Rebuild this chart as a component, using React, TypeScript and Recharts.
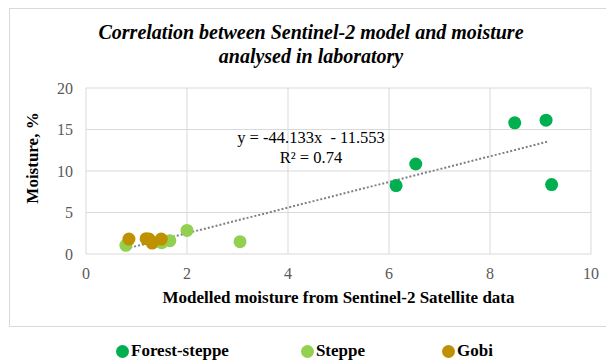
import { ScatterChart, Scatter, XAxis, YAxis, CartesianGrid } from 'recharts';

const forestSteppe = [
  { x: 6.14, y: 8.24 },
  { x: 6.53, y: 10.84 },
  { x: 8.49, y: 15.8 },
  { x: 9.11, y: 16.12 },
  { x: 9.22, y: 8.36 },
];

const steppe = [
  { x: 0.79, y: 1.04 },
  { x: 1.5, y: 1.36 },
  { x: 1.66, y: 1.6 },
  { x: 2.0, y: 2.84 },
  { x: 3.05, y: 1.48 },
];

const gobi = [
  { x: 0.85, y: 1.8 },
  { x: 1.19, y: 1.85 },
  { x: 1.25, y: 1.8 },
  { x: 1.31, y: 1.32 },
  { x: 1.49, y: 1.8 },
];

const trend = [
  { x: 0.8, y: 0.65 },
  { x: 9.16, y: 13.56 },
];

const xTicks = [0, 2, 4, 6, 8, 10];
const yTicks = [0, 5, 10, 15, 20];

const seriesNames = ['Forest-steppe', 'Steppe', 'Gobi'];
const seriesColors = ['#00B050', '#92D050', '#BF9000'];

const serif = '"Liberation Serif", "Times New Roman", "DejaVu Serif", serif';

const dot = (color: string) => (props: any) => (
  <circle cx={props.cx} cy={props.cy} r={6.5} fill={color} />
);

const tickStyle = { fill: '#595959', fontSize: 16, fontFamily: serif, style: { fontFamily: serif } };

export default function App() {
  const groups = [forestSteppe, steppe, gobi];
  return (
    <div style={{ position: 'relative', width: 606, height: 353, fontFamily: serif }}>
      <div
        style={{
          position: 'absolute',
          left: 1,
          top: 0,
          width: 620,
          height: 319,
          border: '1px solid #d9d9d9',
          boxSizing: 'border-box',
        }}
      />
      <div
        style={{
          position: 'absolute',
          left: 0,
          top: 12,
          width: 606,
          textAlign: 'center',
          fontSize: 20,
          fontWeight: 'bold',
          fontStyle: 'italic',
          lineHeight: '24px',
          color: '#000',
        }}
      >
        Correlation between Sentinel-2 model and moisture
        <br />
        analysed in laboratory
      </div>
      <div style={{ position: 'absolute', left: 0, top: 0 }}>
        <ScatterChart width={606} height={353} margin={{ top: 80, right: 23, bottom: 77, left: 0 }}>
          <CartesianGrid stroke="#d9d9d9" strokeWidth={1} />
          <XAxis
            type="number"
            dataKey="x"
            domain={[0, 10]}
            ticks={xTicks}
            axisLine={false}
            tickLine={false}
            tickSize={0}
            tickMargin={14}
            height={30}
            tick={tickStyle}
          />
          <YAxis
            type="number"
            dataKey="y"
            domain={[0, 20]}
            ticks={yTicks}
            axisLine={false}
            tickLine={false}
            tickSize={0}
            tickMargin={13}
            width={78}
            tick={tickStyle}
          />
          <Scatter
            data={trend}
            line={{ stroke: '#808080', strokeWidth: 2, strokeDasharray: '2 2' }}
            shape={() => null}
            isAnimationActive={false}
          />
          {groups.map((g, i) => (
            <Scatter
              key={seriesNames[i]}
              name={seriesNames[i]}
              data={g}
              fill={seriesColors[i]}
              shape={dot(seriesColors[i])}
              isAnimationActive={false}
            />
          ))}
        </ScatterChart>
      </div>
      <div
        style={{
          position: 'absolute',
          left: 203,
          top: 120,
          width: 200,
          textAlign: 'center',
          fontSize: 16.5,
          lineHeight: '20px',
          color: '#000',
          whiteSpace: 'pre',
        }}
      >
        {'y = -44.133x  - 11.553'}
        <br />
        R² = 0.74
      </div>
      <div
        style={{
          position: 'absolute',
          left: -75,
          top: 140,
          width: 200,
          height: 20,
          lineHeight: '20px',
          textAlign: 'center',
          fontSize: 17,
          fontWeight: 'bold',
          transform: 'rotate(-90deg)',
          color: '#000',
        }}
      >
        Moisture, %
      </div>
      <div
        style={{
          position: 'absolute',
          left: 78,
          top: 280,
          width: 505,
          textAlign: 'center',
          fontSize: 17,
          fontWeight: 'bold',
          lineHeight: '20px',
          color: '#000',
        }}
      >
        Modelled moisture from Sentinel-2 Satellite data
      </div>
      <div
        style={{
          position: 'absolute',
          left: 108,
          top: 332,
          display: 'flex',
          alignItems: 'center',
          fontSize: 17,
          fontWeight: 'bold',
          lineHeight: '22px',
          color: '#000',
        }}
      >
        {seriesNames.map((n, i) => (
          <div key={n} style={{ display: 'flex', alignItems: 'center', marginRight: i === 0 ? 72 : 77 }}>
            <span
              style={{
                display: 'inline-block',
                width: 13,
                height: 13,
                borderRadius: '50%',
                background: seriesColors[i],
                marginRight: 2,
              }}
            />
            {n}
          </div>
        ))}
      </div>
    </div>
  );
}
